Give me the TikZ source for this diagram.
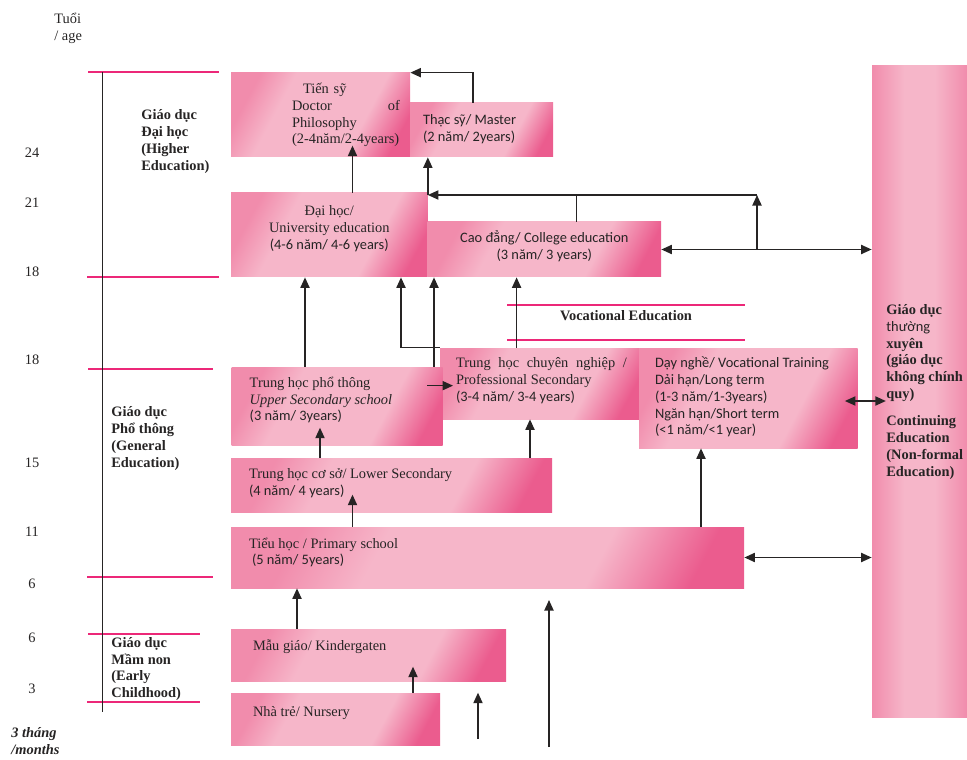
\documentclass[tikz,border=0pt]{standalone}
\usepackage{fontspec}
\setmainfont{Liberation Serif}
\newfontfamily\sansf{Carlito}
\usepackage{tikz}
\usetikzlibrary{arrows.meta}
\usetikzlibrary{fit}
\definecolor{pklight}{RGB}{246,182,201}
\definecolor{pkmid}{RGB}{241,140,172}
\definecolor{pkdark}{RGB}{235,92,142}
\definecolor{pkline}{RGB}{236,40,120}
\definecolor{lk}{RGB}{38,36,36}
\pgfdeclarehorizontalshading{boxshade}{100bp}{color(0bp)=(pkmid); color(25bp)=(pkmid); color(36bp)=(pklight); color(64bp)=(pklight); color(77bp)=(pkdark); color(100bp)=(pkdark)}
\pgfdeclarehorizontalshading{colshade}{100bp}{color(0bp)=(pkmid); color(25bp)=(pkmid); color(42bp)=(pklight); color(58bp)=(pklight); color(75bp)=(pkmid); color(100bp)=(pkmid)}
\tikzset{box/.style = {inner sep = 0, shading = boxshade, shading angle = -28}}
\tikzset{cbox/.style = {inner sep = 0, shading = colshade}}
\tikzset{txt/.style = {inner sep = 0, anchor = west, align = left, text = lk, font = \fontsize{8.2}{9.6}\selectfont}}
\tikzset{sans/.style = {font = \fontsize{8.2}{9.6}\selectfont\sansf}}
\tikzset{head/.style = {txt, font = \fontsize{8.2}{9.6}\selectfont\bfseries}}
\tikzset{link/.style = {draw = lk, line width = 0.9pt}}
\tikzset{arr/.style = {link, -{Triangle[length = 6pt, width = 5.2pt]}}}
\tikzset{arrs/.style = {link, {Triangle[length = 6pt, width = 5.2pt]}-{Triangle[length = 6pt, width = 5.2pt]}}}
\tikzset{band/.style = {draw = pkline, line width = 1.3pt}}
\tikzset{thinband/.style = {draw = pkline, line width = 0.6pt}}
\begin{document}
\begin{tikzpicture}[x = 0.02cm, y = -0.02cm]
  \useasboundingbox (0, 0) rectangle (967, 760);
  % age scale
  \draw [band] (88, 72) -- (219, 72);
  \draw [thinband] (87, 277) -- (219, 277);
  \draw [band] (88, 369) -- (213, 369);
  \draw [thinband] (87, 577) -- (213, 577);
  \draw [band] (88, 634) -- (200, 634);
  \draw [thinband] (87, 702) -- (200, 702);
  \draw [lk, line width = 0.8pt] (102.5, 72) -- (102.5, 712);
  \node [txt] (age) at (54, 28.5) {Tuổi\\/ age};
  \foreach \y/\a in {153/24, 203/21, 272/18, 360/18, 463/15, 532/11, 584/6, 638/6, 689/3}
    \node [txt, anchor = center] (n\y) at (32, \y) {\a};
  \node [head, font = \fontsize{8.2}{9.6}\selectfont\bfseries\itshape] (mo) at (11, 741) {3 tháng\\/months};
  \node [head] (he) at (141, 141.5) {Giáo dục\\Đại học\\(Higher\\Education)};
  \node [head] (ge) at (111, 438.5) {Giáo dục\\Phổ thông\\(General\\Education)};
  \node [head] (ec) at (111, 669) {Giáo dục\\Mầm non\\(Early\\Childhood)};
  % boxes
  \node [box, fit = {(231, 73) (410, 157)}] (ts) {};
  \node [box, fit = {(410, 103) (553, 157)}] (ths) {};
  \node [box, fit = {(231, 193) (427.5, 277)}] (dh) {};
  \node [box, fit = {(427.5, 222) (661, 277)}] (cd) {};
  \node [box, fit = {(440, 348) (641.6, 419)}] (tcn) {};
  \node [box, fit = {(639, 348) (857.5, 448)}] (dn) {};
  \node [box, fit = {(231.7, 367) (442.7, 445)}] (thpt) {};
  \node [box, fit = {(231, 458) (552, 512)}] (thcs) {};
  \node [box, fit = {(231, 527) (744, 588)}] (th) {};
  \node [box, fit = {(231, 629) (506, 681)}] (mg) {};
  \node [box, fit = {(231, 693) (440, 745)}] (nt) {};
  \node [cbox, fit = {(872, 66) (967, 717)}] (ce) {};
  % texts
  \node [txt, text width = 21.6mm] (ts-t) at ([shift = {(61, 0)}] ts.west) {\hspace*{2.2mm}Tiến sỹ\\Doctor\hfill of\\Philosophy\\(2-4năm/2-4years)};
  \node [txt, sans] (ths-t) at ([shift = {(13, -1)}] ths.west) {Thạc sỹ/ Master\\(2 năm/ 2years)};
  \node [txt, anchor = center, align = center] (dh-t) at ([shift = {(0, -6)}] dh.center) {Đại học/\\University education\\{\sansf (4-6 năm/ 4-6 years)}};
  \node [txt, sans, anchor = center, align = center] (cd-t) at ([shift = {(0, -3)}] cd.center) {Cao đẳng/ College education\\(3 năm/ 3 years)};
  \node [txt] (tcn-t) at ([shift = {(16, -3)}] tcn.west) {\makebox[34.2mm][s]{Trung học chuyên nghiệp /}\\Professional Secondary\\{\sansf (3-4 năm/ 3-4 years)}};
  \node [txt, sans] (dn-t) at ([shift = {(16, -1)}] dn.west) {Dạy nghề/ Vocational Training\\Dải hạn/Long term\\(1-3 năm/1-3years)\\Ngăn hạn/Short term\\(<1 năm/<1 year)};
  \node [txt] (thpt-t) at ([shift = {(18, -6)}] thpt.west) {Trung học phổ thông\\\textit{Upper Secondary school}\\{\sansf (3 năm/ 3years)}};
  \node [txt] (thcs-t) at ([shift = {(18, -2)}] thcs.west) {Trung học cơ sở/ Lower Secondary\\{\sansf (4 năm/ 4 years)}};
  \node [txt] (th-t) at ([shift = {(18, -5)}] th.west) {Tiểu học / Primary school\\\hspace*{0.6mm}{\sansf (5 năm/ 5years)}};
  \node [txt] (mg-t) at ([shift = {(22, -8)}] mg.west) {Mẫu giáo/ Kindergaten};
  \node [txt] (nt-t) at ([shift = {(22, -6)}] nt.west) {Nhà trẻ/ Nursery};
  \node [head, anchor = north west] (ce-t) at (886, 304) {Giáo dục\\{\sansf\mdseries thường}\\xuyên\\(giáo dục\\không chính\\quy)\\[5.7pt]Continuing\\Education\\(Non-formal\\Education)};
  % vocational band
  \draw [band, line width = 0.9pt] (507, 305) -- (745, 305);
  \draw [band, line width = 0.9pt] (507, 340) -- (745, 340);
  \node [head, anchor = center] (voc) at (626, 316) {Vocational Education};
  % arrows
  \coordinate (hub) at (757, 195);
  \draw [arr] (473, 0 |- ths.north) |- (ts.north east);
  \draw [arr] (352.5, 0 |- dh.north) -- ++(0, -47);
  \draw [arr] (hub) -- (hub -| dh.east);
  \draw [link] (576.5, 0 |- cd.north) -- (576.5, 0 |- hub);
  \draw [arr] (hub -| dh.east) -- (dh.east |- ths.south);
  \draw [arr] (hub |- cd.east) -- (hub);
  \draw [arrs] (cd.east) -- (cd.east -| ce.west);
  \draw [arr] (305, 0 |- thpt.north) -- (305, 0 |- dh.south);
  \draw [arr] (tcn.north west) -| (401, 0 |- dh.south);
  \draw [arr] (434, 0 |- thpt.north) -- (434, 0 |- cd.south);
  \draw [arr] (516.6, 0 |- tcn.north) -- (516.6, 0 |- cd.south);
  \draw [arr] ([shift = {(-16, 19)}] thpt.north east) -- ++(26, 0);
  \draw [arr] (320, 0 |- thcs.north) -- ++(0, -30);
  \draw [arr] (530, 0 |- thcs.north) -- (530, 0 |- tcn.south);
  \draw [arr] (352.5, 0 |- th.north) -- ++(0, -32);
  \draw [arr] (701, 0 |- th.north) -- (701, 0 |- dn.south);
  \draw [arrs] ([shift = {(-13, 3)}] dn.east) -- ++(41, 0);
  \draw [arrs] (th.east) -- (th.east -| ce.west);
  \draw [arr] (297, 0 |- mg.north) -- (297, 0 |- th.south);
  \draw [arr] (413, 0 |- nt.north) -- ++(0, -26);
  \coordinate (in1) at (478, 739);
  \draw [arr] (in1) -- (in1 |- nt.north);
  \coordinate (in2) at (549, 747);
  \draw [arr] (in2) -- ++(0, -147);
\end{tikzpicture}
\end{document}
